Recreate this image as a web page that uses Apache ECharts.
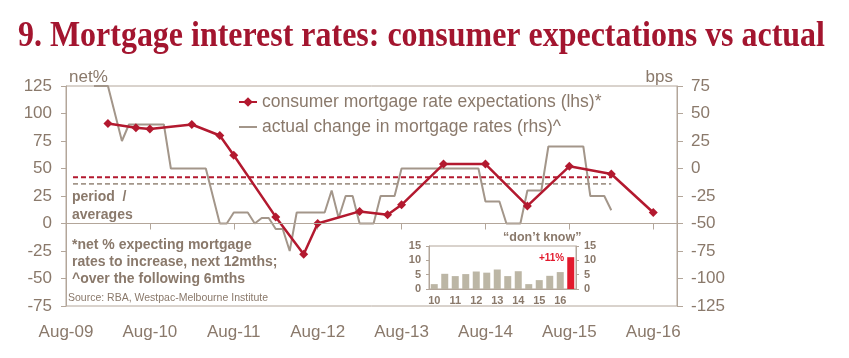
<!DOCTYPE html>
<html><head><meta charset="utf-8">
<script src="https://cdn.jsdelivr.net/npm/echarts@6/dist/echarts.min.js"></script>
<style>html,body{margin:0;padding:0;background:#fff}#c{width:849px;height:358px}</style>
</head><body><div id="c"></div>
<script>
// ---- data ----
const xTickLabels = ['Aug-09','Aug-10','Aug-11','Aug-12','Aug-13','Aug-14','Aug-15','Aug-16'];
const leftTicks = [-75,-50,-25,0,25,50,75,100,125];
const rightTicks = [-125,-100,-75,-50,-25,0,25,50,75];

const expectName = 'consumer mortgage rate expectations (lhs)*';
const expectDates = ['2010-02','2010-06','2010-08','2011-02','2011-06','2011-08','2012-02','2012-06','2012-08','2013-02','2013-06','2013-08','2014-02','2014-08','2015-02','2015-08','2016-02','2016-08'];
const expectValues = [91,87,86,90,80,62,6,-28,0,11,8,17,54,54,16,52,45,10];

const actualName = 'actual change in mortgage rates (rhs)^';
const actualDates = ['2009-12','2010-02','2010-04','2010-05','2010-10','2010-11','2011-04','2011-06','2011-07','2011-08','2011-10','2011-11','2011-12','2012-01','2012-02','2012-03','2012-04','2012-05','2012-09','2012-10','2012-11','2012-12','2013-01','2013-02','2013-04','2013-05','2013-07','2013-08','2014-07','2014-08','2014-10','2014-11','2015-01','2015-02','2015-04','2015-05','2015-10','2015-11','2016-01','2016-02'];
const actualValues = [75,75,25,40,40,0,0,-50,-50,-40,-40,-50,-45,-45,-55,-55,-75,-40,-40,-20,-45,-25,-25,-50,-50,-25,-25,0,0,-30,-30,-50,-50,-20,-20,20,20,-25,-25,-38];

const avgDates = ['2009-09','2016-02'];
const expectAverage = 42;   // lhs
const actualAverage = -14;  // rhs

const dkCategories = ['Feb-10','Aug-10','Feb-11','Aug-11','Feb-12','Aug-12','Feb-13','Aug-13','Feb-14','Aug-14','Feb-15','Aug-15','Feb-16','Aug-16'];
const dkValues = [1.7,5.3,4.5,5.2,6.1,5.7,6.8,4.5,6.2,1.7,3.1,4.6,5.9,11.1];
const dkTicks = [0,5,10,15];

// ---- helpers ----
const monthsFrom = s => { const [y,m] = s.split('-').map(Number); return (y-2009)*12 + (m-8); };
const labelMonth = s => { const mm = {Jan:1,Feb:2,Mar:3,Apr:4,May:5,Jun:6,Jul:7,Aug:8,Sep:9,Oct:10,Nov:11,Dec:12}; const [a,b]=s.split('-'); return monthsFrom((2000+Number(b))+'-'+mm[a]); };
const xTickValues = xTickLabels.map(labelMonth);

const TXT = '#8a796b';
const AX = '#b3a69a';
const RED = '#b3192f';
const GREY = '#a3968a';
const FF = '"Liberation Sans", Arial, Helvetica, sans-serif';

const chart = echarts.init(document.getElementById('c'), null, {renderer:'canvas'});
chart.setOption({
  animation: false,
  backgroundColor: '#fff',
  textStyle: {fontFamily: FF},
  grid: [
    {left: 66, right: 172, top: 86, bottom: 52, show: true, borderColor: AX, borderWidth: 1, backgroundColor: 'transparent'},
    {left: 429, right: 273, top: 246, bottom: 69, show: true, borderColor: AX, borderWidth: 1, backgroundColor: '#fff'}
  ],
  legend: {
    data: [{name: expectName}, {name: actualName, itemStyle: {opacity: 0}}],
    orient: 'vertical', left: 233, top: 87,
    itemWidth: 18, itemHeight: 12, itemGap: 5, selectedMode: false,
    textStyle: {fontSize: 17.5, color: TXT, fontFamily: FF, lineHeight: 20}
  },
  xAxis: [
    {type: 'value', gridIndex: 0, min: 0, max: 87.4,
     axisLine: {show: true, lineStyle: {color: AX, width: 1}},
     axisTick: {show: true, length: 6, lineStyle: {color: AX}, customValues: xTickValues},
     axisLabel: {show: true, customValues: xTickValues, margin: 18, fontSize: 17, color: TXT, fontFamily: FF,
       formatter: v => xTickLabels[xTickValues.indexOf(Math.round(v))] || ''},
     splitLine: {show: false}},
    {type: 'category', gridIndex: 1, data: dkCategories,
     axisLine: {show: true, lineStyle: {color: AX}}, axisTick: {show: false},
     axisLabel: {interval: 0, margin: 6, fontSize: 11, fontWeight: 'bold', color: TXT, fontFamily: FF,
       formatter: v => v.startsWith('Feb') ? v.slice(4) : ''}}
  ],
  yAxis: [
    {type: 'value', gridIndex: 0, min: leftTicks[0], max: leftTicks[leftTicks.length-1], interval: leftTicks[1]-leftTicks[0],
     name: 'net%', nameLocation: 'end', nameGap: 9,
     nameTextStyle: {align: 'left', verticalAlign: 'middle', fontSize: 17, color: TXT, padding: [0,0,0,3]},
     axisLine: {show: true, lineStyle: {color: AX}}, axisTick: {show: true, length: 5, lineStyle: {color: AX}},
     axisLabel: {fontSize: 17, color: TXT, margin: 14}, splitLine: {show: false}},
    {type: 'value', gridIndex: 0, position: 'right', min: rightTicks[0], max: rightTicks[rightTicks.length-1], interval: rightTicks[1]-rightTicks[0],
     name: 'bps', nameLocation: 'end', nameGap: 9,
     nameTextStyle: {align: 'right', verticalAlign: 'middle', fontSize: 17, color: TXT, padding: [0,4,0,0]},
     axisLine: {show: true, lineStyle: {color: AX}}, axisTick: {show: true, length: 6, lineStyle: {color: AX}},
     axisLabel: {fontSize: 17, color: TXT, margin: 14}, splitLine: {show: false}},
    {type: 'value', gridIndex: 1, min: dkTicks[0], max: dkTicks[dkTicks.length-1], interval: dkTicks[1]-dkTicks[0],
     axisLine: {show: true, lineStyle: {color: AX}}, axisTick: {show: true, length: 3, lineStyle: {color: AX}},
     axisLabel: {fontSize: 11, fontWeight: 'bold', color: TXT, margin: 8}, splitLine: {show: false}},
    {type: 'value', gridIndex: 1, position: 'right', min: dkTicks[0], max: dkTicks[dkTicks.length-1], interval: dkTicks[1]-dkTicks[0],
     axisLine: {show: true, lineStyle: {color: AX}}, axisTick: {show: true, length: 3, lineStyle: {color: AX}},
     axisLabel: {fontSize: 11, fontWeight: 'bold', color: TXT, margin: 8}, splitLine: {show: false}}
  ],
  series: [
    {name: 'zero', type: 'line', xAxisIndex: 0, yAxisIndex: 0, data: [], silent: true,
     markLine: {silent: true, symbol: 'none', label: {show: false}, lineStyle: {color: AX, width: 1, type: 'solid'}, data: [{yAxis: 0}]}},
    {name: 'avgA', type: 'line', xAxisIndex: 0, yAxisIndex: 1, symbol: 'none', silent: true,
     lineStyle: {color: GREY, width: 1.8, type: [5,3]},
     data: avgDates.map(d => [monthsFrom(d), actualAverage])},
    {name: 'avgE', type: 'line', xAxisIndex: 0, yAxisIndex: 0, symbol: 'none', silent: true,
     lineStyle: {color: RED, width: 2, type: [5,3]},
     data: avgDates.map(d => [monthsFrom(d), expectAverage])},
    {name: actualName, type: 'line', xAxisIndex: 0, yAxisIndex: 1, symbol: 'none', clip: false,
     lineStyle: {color: GREY, width: 2}, itemStyle: {color: GREY},
     data: actualDates.map((d,i) => [monthsFrom(d), actualValues[i]])},
    {name: expectName, type: 'line', xAxisIndex: 0, yAxisIndex: 0, symbol: 'diamond', symbolSize: 9,
     lineStyle: {color: RED, width: 2.5}, itemStyle: {color: RED},
     data: expectDates.map((d,i) => [monthsFrom(d), expectValues[i]])},
    {name: 'dk', type: 'bar', xAxisIndex: 1, yAxisIndex: 2, barWidth: 7,
     data: dkValues.map((v,i) => i === dkValues.length-1
        ? {value: v, itemStyle: {color: '#e2192c'},
           label: {show: true, position: [-3, 1], align: 'right', verticalAlign: 'middle', formatter: '+11%', color: '#e2192c', fontSize: 10, fontWeight: 'bold'}}
        : {value: v, itemStyle: {color: '#bcb6a5'}})}
  ],
  graphic: [
    {type: 'text', left: 18, top: 19, scaleX: 0.913, style: {text: '9. Mortgage interest rates: consumer expectations vs actual',
      font: 'bold 35px "Liberation Serif", "Times New Roman", serif', fill: '#a3152f'}},
    {type: 'text', left: 72, top: 188, style: {text: 'period  /\naverages', font: 'bold 14px ' + FF, fill: TXT, lineHeight: 18}},
    {type: 'text', left: 72, top: 237, style: {text: '*net % expecting mortgage\nrates to increase, next 12mths;\n^over the following 6mths', font: 'bold 14px ' + FF, fill: TXT, lineHeight: 17}},
    {type: 'text', left: 68, top: 293, style: {text: 'Source: RBA, Westpac-Melbourne Institute', font: '10.5px ' + FF, fill: TXT}},
    {type: 'text', left: 503, top: 231, style: {text: '\u201cdon\u2019t know\u201d', font: 'bold 12.5px ' + FF, fill: TXT, align: 'center'}}
  ]
});
</script></body></html>
